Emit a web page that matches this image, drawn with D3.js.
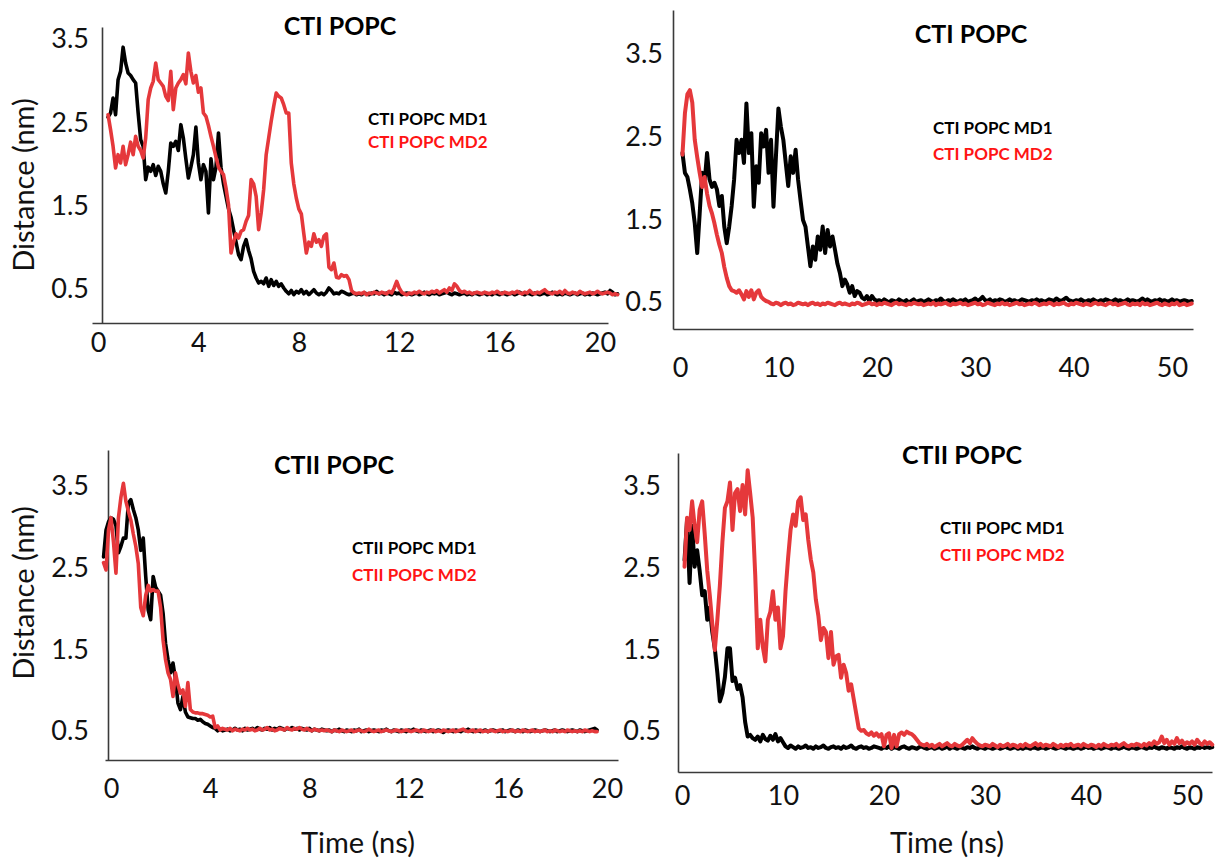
<!DOCTYPE html>
<html>
<head>
<meta charset="utf-8">
<script src="https://cdn.jsdelivr.net/npm/d3@7"></script>
<style>
  html, body { margin: 0; padding: 0; background: #fff; }
  svg { display: block; }
  text { font-family: Lato, "Open Sans", "DejaVu Sans", sans-serif; }
</style>
</head>
<body>
<svg id="chart" width="1220" height="862"></svg>
<script>
// ---------------- DATA ----------------
const yTickValues = [0.5, 1.5, 2.5, 3.5];
const xTicks20 = [0, 4, 8, 12, 16, 20];
const xTicks50 = [0, 10, 20, 30, 40, 50];

// Panel 1: CTI POPC (0-20 ns), time starts 0.4 ns, step 0.1 ns
const p1Start = 0.4, p1Step = 0.1;
const p1MD1 = [
  2.55, 2.6, 2.78, 2.58, 3.0, 3.1, 3.39, 3.2, 3.08, 3.05,
  3.0, 2.96, 2.6, 2.28, 2.2, 1.8, 1.95, 1.9, 1.98, 1.85,
  1.96, 1.9, 1.75, 1.64, 1.9, 2.24, 2.2, 2.26, 2.15, 2.46,
  2.3, 2.05, 1.82, 1.95, 2.1, 2.43, 2.0, 1.8, 1.98, 1.9,
  1.4, 2.05, 1.8, 1.95, 2.36, 1.95, 1.75, 1.6, 1.45, 1.35,
  1.2, 1.05, 0.9, 0.84, 1.0, 1.08, 0.95, 0.85, 0.7, 0.62,
  0.56, 0.58, 0.55, 0.62, 0.52, 0.6, 0.53, 0.58, 0.52, 0.55,
  0.5, 0.46, 0.43, 0.47, 0.42, 0.46, 0.44, 0.48, 0.43, 0.46,
  0.42, 0.45, 0.48, 0.44, 0.42, 0.44, 0.42, 0.45, 0.5, 0.47,
  0.43, 0.44, 0.43, 0.46, 0.45, 0.43, 0.42, 0.43, 0.44, 0.42,
  0.43, 0.42, 0.44, 0.43, 0.42, 0.44, 0.43, 0.46, 0.43, 0.44,
  0.42, 0.44, 0.43, 0.42, 0.45, 0.43, 0.44, 0.42, 0.43, 0.44,
  0.43, 0.42, 0.43, 0.44, 0.42, 0.43, 0.45, 0.43, 0.42, 0.44,
  0.43, 0.44, 0.42, 0.43, 0.44, 0.45, 0.43, 0.42, 0.44, 0.43,
  0.42, 0.43, 0.44, 0.42, 0.43, 0.42, 0.44, 0.43, 0.42, 0.43,
  0.44, 0.42, 0.43, 0.42, 0.44, 0.43, 0.42, 0.44, 0.43, 0.42,
  0.43, 0.44, 0.42, 0.43, 0.45, 0.43, 0.42, 0.44, 0.43, 0.42,
  0.44, 0.43, 0.42, 0.43, 0.44, 0.42, 0.43, 0.45, 0.43, 0.42,
  0.43, 0.42, 0.44, 0.43, 0.42, 0.43, 0.44, 0.42, 0.43, 0.44,
  0.42, 0.43, 0.42, 0.44, 0.43, 0.42, 0.43, 0.44, 0.45, 0.43,
  0.47, 0.45, 0.42, 0.43
];
const p1MD2 = [
  2.58, 2.4, 2.2, 1.94, 2.1, 2.0, 2.2, 1.98, 2.1, 2.25,
  2.1, 2.32, 2.2, 2.15, 2.06, 2.3, 2.76, 2.9, 2.98, 3.2,
  3.0, 2.96, 2.92, 2.8, 2.75, 3.1, 2.64, 2.9, 2.96, 3.0,
  3.06, 2.95, 3.32, 3.1, 2.96, 3.05, 2.85, 2.9, 2.6, 2.56,
  2.45, 2.32, 2.2, 2.07, 1.95, 1.9, 1.86, 1.7, 1.5, 0.92,
  1.05, 1.15, 1.1, 1.18, 1.2, 1.3, 1.37, 1.8, 1.75, 1.6,
  1.2, 1.4, 1.68, 2.1, 2.3, 2.5, 2.68, 2.84, 2.8, 2.78,
  2.7, 2.6, 2.6, 2.0, 1.75, 1.58, 1.45, 1.39, 1.15, 0.92,
  1.05, 1.0, 1.15, 1.05, 1.08, 1.0, 1.12, 1.15, 0.75, 0.72,
  0.8, 0.63, 0.62, 0.66, 0.64, 0.65, 0.6, 0.47, 0.44, 0.43,
  0.44, 0.43, 0.45, 0.42, 0.44, 0.43, 0.45, 0.44, 0.43, 0.45,
  0.44, 0.43, 0.46, 0.44, 0.5, 0.58, 0.5, 0.45, 0.43, 0.42,
  0.44, 0.43, 0.45, 0.44, 0.46, 0.44, 0.43, 0.45, 0.44, 0.46,
  0.45, 0.47, 0.44, 0.46, 0.48, 0.45, 0.5, 0.47, 0.55, 0.52,
  0.47, 0.45, 0.46, 0.44, 0.45, 0.43, 0.44, 0.45, 0.44, 0.43,
  0.45, 0.44, 0.43, 0.45, 0.44, 0.46, 0.44, 0.43, 0.45, 0.44,
  0.43, 0.45, 0.44, 0.46, 0.44, 0.43, 0.45, 0.44, 0.47, 0.44,
  0.43, 0.45, 0.44, 0.46, 0.48, 0.45, 0.44, 0.43, 0.45, 0.44,
  0.46, 0.43, 0.47, 0.44, 0.43, 0.45, 0.44, 0.43, 0.46, 0.44,
  0.43, 0.44, 0.45, 0.43, 0.44, 0.46, 0.44, 0.43, 0.44, 0.45,
  0.44, 0.42, 0.43, 0.42
];

// Panel 2: CTI POPC (0-50 ns), time starts 0.25 ns, step 0.25 ns
const p2Start = 0.25, p2Step = 0.25;
const p2MD1 = [
  2.29, 2.05, 2.0, 1.85, 1.68, 1.44, 1.08, 1.56, 2.05, 1.93,
  2.29, 1.97, 1.88, 1.93, 1.85, 1.65, 1.77, 1.4, 1.2, 1.4,
  1.65, 1.97, 2.45, 2.29, 2.45, 2.17, 2.89, 2.29, 2.53, 1.64,
  2.13, 1.93, 2.53, 2.37, 2.57, 2.05, 2.45, 1.64, 2.25, 2.83,
  2.61, 2.45, 2.17, 1.89, 2.25, 2.05, 2.33, 1.97, 1.72, 1.48,
  1.4, 1.16, 0.92, 1.16, 1.0, 1.28, 1.12, 1.4, 1.08, 1.36,
  1.16, 1.28, 1.12, 0.95, 0.84, 0.68, 0.76, 0.7, 0.6, 0.68,
  0.56, 0.62, 0.6, 0.54, 0.52, 0.56, 0.5, 0.56, 0.52, 0.5,
  0.51, 0.49, 0.52, 0.5, 0.48, 0.51, 0.5, 0.49, 0.52, 0.5, 0.49, 0.51, 0.48, 0.5, 0.52, 0.49,
  0.5, 0.51, 0.49, 0.5, 0.52, 0.5, 0.49, 0.51, 0.5, 0.53, 0.5, 0.49, 0.51, 0.5, 0.52, 0.5,
  0.49, 0.51, 0.5, 0.52, 0.49, 0.5, 0.51, 0.53, 0.5, 0.52, 0.55, 0.51, 0.5, 0.52, 0.49, 0.51,
  0.5, 0.52, 0.51, 0.49, 0.5, 0.52, 0.5, 0.51, 0.49, 0.5, 0.52, 0.51, 0.5, 0.49, 0.51, 0.5,
  0.52, 0.5, 0.51, 0.49, 0.5, 0.52, 0.51, 0.5, 0.53, 0.51, 0.5, 0.52, 0.54, 0.51, 0.5, 0.49,
  0.51, 0.5, 0.52, 0.5, 0.49, 0.51, 0.5, 0.52, 0.5, 0.49, 0.51, 0.5, 0.52, 0.51, 0.49, 0.5,
  0.52, 0.5, 0.51, 0.49, 0.5, 0.52, 0.5, 0.51, 0.5, 0.49, 0.51, 0.53, 0.5, 0.52, 0.5, 0.49,
  0.51, 0.5, 0.52, 0.5, 0.51, 0.49, 0.5, 0.52, 0.5, 0.51, 0.49, 0.5, 0.51, 0.5, 0.49, 0.5
];
const p2MD2 = [
  2.27, 2.77, 3.0, 3.05, 2.9, 2.45, 2.24, 2.05, 1.88, 2.0,
  1.8, 1.65, 1.56, 1.44, 1.3, 1.18, 1.08, 0.91, 0.78, 0.68,
  0.63, 0.62, 0.6, 0.63, 0.58, 0.52, 0.62, 0.55, 0.63, 0.52,
  0.6, 0.63, 0.55, 0.52, 0.5, 0.49,
  0.47, 0.46, 0.48, 0.47, 0.45, 0.47, 0.48, 0.46, 0.47, 0.45, 0.46, 0.48, 0.47, 0.46, 0.47, 0.45,
  0.47, 0.48, 0.46, 0.47, 0.45, 0.47, 0.46, 0.48, 0.47, 0.46, 0.45, 0.47, 0.48, 0.46, 0.47, 0.46,
  0.45, 0.47, 0.46, 0.48, 0.47, 0.45, 0.46, 0.47, 0.48, 0.46, 0.47, 0.45, 0.47, 0.46, 0.48, 0.47,
  0.46, 0.45, 0.47, 0.48, 0.46, 0.47, 0.46, 0.45, 0.47, 0.46, 0.48, 0.47, 0.46, 0.47, 0.45, 0.46,
  0.47, 0.46, 0.48, 0.45, 0.47, 0.46, 0.47, 0.48, 0.46, 0.45, 0.47, 0.46, 0.47, 0.48, 0.46, 0.47,
  0.45, 0.46, 0.47, 0.48, 0.46, 0.47, 0.45, 0.46, 0.48, 0.47, 0.46, 0.45, 0.47, 0.46, 0.48, 0.46,
  0.47, 0.45, 0.46, 0.47, 0.48, 0.46, 0.47, 0.45, 0.46, 0.47, 0.46, 0.48, 0.47, 0.45, 0.46, 0.47,
  0.46, 0.48, 0.47, 0.45, 0.47, 0.46, 0.47, 0.48, 0.46, 0.45, 0.47, 0.46, 0.48, 0.47, 0.46, 0.45,
  0.47, 0.46, 0.45, 0.47, 0.48, 0.46, 0.47, 0.46, 0.45, 0.47, 0.48, 0.46, 0.47, 0.45, 0.46, 0.47,
  0.48, 0.46, 0.45, 0.47, 0.46, 0.47, 0.45, 0.48, 0.46, 0.47, 0.45, 0.46, 0.47, 0.48, 0.46, 0.45,
  0.47, 0.46, 0.45, 0.47, 0.46, 0.48, 0.45, 0.46, 0.47, 0.45, 0.46, 0.47
];

// Panel 3: CTII POPC (0-20 ns), time starts -0.3 ns, step 0.1 ns
const p3Start = -0.3, p3Step = 0.1;
const p3MD1 = [
  2.62, 2.95, 3.05, 3.1, 3.08, 3.0, 2.67, 2.75, 2.85, 2.85,
  3.28, 3.32, 3.2, 3.1, 2.95, 2.7, 2.85, 2.38, 1.97, 1.85,
  2.38, 2.25, 2.2, 2.15, 1.93, 1.56, 1.36, 1.2, 1.32, 1.12,
  0.83, 0.75, 0.91, 0.72, 0.66, 0.65, 0.64, 0.64, 0.62, 0.63,
  0.6, 0.58, 0.57, 0.55, 0.53, 0.52, 0.49, 0.51, 0.49, 0.5,
  0.51, 0.49, 0.5, 0.52, 0.5, 0.51, 0.49, 0.52, 0.5, 0.51,
  0.52, 0.5, 0.53, 0.51, 0.5, 0.52, 0.51, 0.53, 0.5, 0.52,
  0.51, 0.53, 0.52, 0.5, 0.52, 0.51, 0.53, 0.51, 0.52, 0.5,
  0.52, 0.51, 0.5, 0.52, 0.49, 0.51, 0.5, 0.49, 0.51, 0.5,
  0.49, 0.5, 0.48, 0.5, 0.49, 0.51, 0.49, 0.48, 0.5, 0.49,
  0.48, 0.5, 0.49, 0.51, 0.48, 0.49, 0.5, 0.48, 0.49, 0.5,
  0.49, 0.48, 0.5, 0.49, 0.51, 0.49, 0.48, 0.5, 0.49, 0.48,
  0.5, 0.49, 0.48, 0.5, 0.49, 0.51, 0.49, 0.48, 0.5, 0.49,
  0.48, 0.49, 0.5, 0.48, 0.49, 0.5, 0.49, 0.47, 0.49, 0.5,
  0.49, 0.48, 0.5, 0.49, 0.48, 0.5, 0.49, 0.51, 0.49, 0.48,
  0.5, 0.49, 0.48, 0.49, 0.5, 0.48, 0.49, 0.5, 0.49, 0.48,
  0.49, 0.5, 0.48, 0.49, 0.5, 0.49, 0.48, 0.5, 0.49, 0.48,
  0.5, 0.49, 0.48, 0.49, 0.5, 0.49, 0.48, 0.49, 0.5, 0.49,
  0.48, 0.49, 0.5, 0.48, 0.49, 0.5, 0.49, 0.48, 0.49, 0.5,
  0.49, 0.48, 0.5, 0.49, 0.48, 0.49, 0.5, 0.51, 0.52, 0.5
];
const p3MD2 = [
  2.55, 2.46, 2.95, 3.1, 2.8, 2.42, 3.1, 3.35, 3.52, 3.3,
  3.18, 3.07, 2.9, 2.75, 2.54, 2.0, 1.9, 2.15, 2.27, 2.2,
  2.22, 2.2, 2.2, 2.0, 1.6, 1.36, 1.2, 1.12, 0.91, 1.2,
  1.05, 0.95, 0.99, 0.79, 1.08, 0.75, 0.72, 0.71, 0.71, 0.7,
  0.7, 0.69, 0.68, 0.66, 0.67, 0.53, 0.55, 0.5, 0.52, 0.51,
  0.5, 0.52, 0.49, 0.51, 0.5, 0.49, 0.51, 0.5, 0.52, 0.5,
  0.51, 0.49, 0.5, 0.52, 0.5, 0.51, 0.53, 0.5, 0.51, 0.49,
  0.5, 0.52, 0.51, 0.5, 0.53, 0.51, 0.5, 0.52, 0.51, 0.53,
  0.51, 0.5, 0.52, 0.5, 0.49, 0.51, 0.5, 0.49, 0.5, 0.49,
  0.5, 0.49, 0.48, 0.5, 0.49, 0.48, 0.5, 0.49, 0.48, 0.49,
  0.5, 0.48, 0.49, 0.5, 0.49, 0.48, 0.49, 0.51, 0.49, 0.48,
  0.49, 0.5, 0.48, 0.49, 0.5, 0.49, 0.48, 0.49, 0.5, 0.49,
  0.48, 0.49, 0.5, 0.49, 0.48, 0.49, 0.5, 0.49, 0.48, 0.5,
  0.49, 0.48, 0.49, 0.5, 0.48, 0.49, 0.48, 0.5, 0.49, 0.48,
  0.49, 0.5, 0.48, 0.49, 0.5, 0.51, 0.49, 0.48, 0.49, 0.5,
  0.48, 0.49, 0.5, 0.48, 0.49, 0.48, 0.5, 0.49, 0.48, 0.49,
  0.5, 0.48, 0.49, 0.48, 0.49, 0.5, 0.48, 0.49, 0.48, 0.5,
  0.49, 0.48, 0.49, 0.5, 0.48, 0.49, 0.48, 0.49, 0.5, 0.48,
  0.49, 0.48, 0.5, 0.49, 0.48, 0.49, 0.48, 0.5, 0.49, 0.48,
  0.49, 0.48, 0.49, 0.48, 0.5, 0.49, 0.48, 0.49, 0.48, 0.48
];

// Panel 4: CTII POPC (0-50 ns), time starts 0.25 ns, step 0.25 ns
const p4Start = 0.25, p4Step = 0.25;
const p4MD1 = [
  2.58, 3.07, 2.3, 3.0, 2.5, 2.7, 2.45, 2.15, 2.2, 1.85,
  2.0, 1.7, 1.5, 1.2, 0.85, 0.95, 1.15, 1.5, 1.5, 1.1,
  1.14, 1.0, 1.05, 0.9, 0.6, 0.42, 0.44, 0.4, 0.38, 0.42,
  0.36, 0.44, 0.39, 0.37, 0.43, 0.38, 0.45, 0.36, 0.4, 0.35,
  0.3, 0.28, 0.31, 0.29, 0.27, 0.3, 0.28, 0.29, 0.31, 0.28,
  0.29, 0.27, 0.3, 0.28, 0.29, 0.31, 0.28, 0.27, 0.29, 0.3,
  0.28, 0.29, 0.27, 0.3, 0.28, 0.29, 0.31, 0.28, 0.27, 0.29,
  0.3, 0.28, 0.29, 0.27, 0.28, 0.3, 0.29, 0.28, 0.27, 0.29,
  0.28, 0.3, 0.27, 0.29, 0.28, 0.27, 0.29, 0.3, 0.28, 0.27,
  0.29, 0.28, 0.27, 0.29, 0.3, 0.28, 0.27, 0.28, 0.29, 0.27,
  0.28, 0.29, 0.27, 0.28, 0.3, 0.27, 0.29, 0.28, 0.27, 0.29,
  0.28, 0.27, 0.29, 0.28, 0.3, 0.28, 0.27, 0.29, 0.28, 0.27,
  0.29, 0.28, 0.27, 0.28, 0.29, 0.27, 0.28, 0.3, 0.28, 0.27,
  0.28, 0.29, 0.27, 0.28, 0.27, 0.29, 0.28, 0.27, 0.29, 0.28,
  0.27, 0.28, 0.29, 0.27, 0.28, 0.3, 0.28, 0.27, 0.28, 0.29,
  0.28, 0.27, 0.29, 0.28, 0.27, 0.28, 0.29, 0.27, 0.28, 0.3,
  0.28, 0.29, 0.27, 0.28, 0.29, 0.27, 0.28, 0.29, 0.28, 0.27,
  0.29, 0.28, 0.27, 0.28, 0.3, 0.28, 0.27, 0.29, 0.28, 0.27,
  0.28, 0.29, 0.28, 0.27, 0.29, 0.28, 0.3, 0.28, 0.27, 0.29,
  0.28, 0.27, 0.29, 0.28, 0.27, 0.29, 0.28, 0.3, 0.28, 0.27,
  0.29, 0.28, 0.27, 0.29, 0.28, 0.3, 0.28, 0.29, 0.28, 0.29
];
const p4MD2 = [
  2.5, 3.1, 2.95, 3.3, 3.0, 2.8, 3.2, 3.3, 2.9, 2.45,
  2.15, 1.8, 1.48, 1.85, 2.27, 2.8, 3.22, 3.3, 3.53, 2.95,
  3.4, 3.45, 3.18, 3.5, 3.14, 3.68, 3.4, 3.1, 2.4, 1.5,
  1.85, 1.52, 1.34, 1.85, 1.95, 2.2, 1.85, 2.0, 1.5, 1.65,
  2.2, 2.6, 2.95, 3.14, 3.0, 3.3, 3.35, 3.07, 3.14, 2.83,
  2.59, 2.43, 2.1, 1.9, 1.6, 1.75, 1.7, 1.38, 1.7, 1.3,
  1.4, 1.42, 1.14, 1.3, 1.2, 0.98, 1.06, 0.88, 0.7, 0.52,
  0.49, 0.5, 0.46, 0.44, 0.47, 0.43, 0.46, 0.42, 0.45, 0.3,
  0.44, 0.46, 0.28, 0.44, 0.3, 0.45, 0.47, 0.44, 0.48, 0.46,
  0.45, 0.42, 0.38, 0.34, 0.32, 0.31, 0.33, 0.3, 0.32, 0.29,
  0.31, 0.33, 0.3, 0.32, 0.34, 0.31, 0.3, 0.33, 0.31, 0.3,
  0.32, 0.35, 0.38, 0.34, 0.4, 0.36, 0.33, 0.31, 0.3, 0.32,
  0.31, 0.3, 0.33, 0.31, 0.29, 0.32, 0.3, 0.31, 0.33, 0.3,
  0.32, 0.31, 0.29, 0.32, 0.3, 0.33, 0.31, 0.3, 0.32, 0.34,
  0.31, 0.33, 0.3, 0.32, 0.31, 0.3, 0.33, 0.31, 0.29, 0.32,
  0.3, 0.32, 0.31, 0.33, 0.3, 0.31, 0.32, 0.3, 0.33, 0.31,
  0.3, 0.32, 0.31, 0.29, 0.32, 0.3, 0.33, 0.31, 0.3, 0.32,
  0.31, 0.33, 0.3, 0.32, 0.34, 0.31, 0.3, 0.32, 0.31, 0.33,
  0.32, 0.3, 0.33, 0.31, 0.34, 0.32, 0.36, 0.33, 0.35, 0.42,
  0.34, 0.38, 0.32, 0.36, 0.33, 0.4, 0.34, 0.37, 0.32, 0.35,
  0.33, 0.36, 0.32, 0.38, 0.34, 0.32, 0.36, 0.33, 0.35, 0.32
];

const titles = ["CTI POPC", "CTI POPC", "CTII POPC", "CTII POPC"];
const legends = [
  ["CTI POPC MD1", "CTI POPC MD2"],
  ["CTI POPC MD1", "CTI POPC MD2"],
  ["CTII POPC MD1", "CTII POPC MD2"],
  ["CTII POPC MD1", "CTII POPC MD2"]
];
const yAxisTitle = "Distance (nm)";
const xAxisTitle = "Time (ns)";

// ---------------- LAYOUT ----------------
const COLOR_MD1 = "#000000";
const COLOR_MD2 = "#e5383b";
const COLOR_LEG2 = "#ff1414";
const FONT = "Lato, 'Open Sans', sans-serif";

const panels = [
  { start: p1Start, step: p1Step, md1: p1MD1, md2: p1MD2, ticks: xTicks20, sw: 3.6,
    yAxisX: 102, xAxisY: 323, yTop: 27, xLeft: 92, xRight: 608,
    x0: 98, x1: 600, t1: 20, y05: 288, y35: 38, yPad: 13, xLabY: 342,
    title: [340, 26], leg: [368, 119, 142], yTitle: [24, 185], xTitle: null },
  { start: p2Start, step: p2Step, md1: p2MD1, md2: p2MD2, ticks: xTicks50, sw: 4,
    yAxisX: 673, xAxisY: 329, yTop: 10, xLeft: 673, xRight: 1193,
    x0: 680, x1: 1172, t1: 50, y05: 301, y35: 53, yPad: 10, xLabY: 367,
    title: [971, 34], leg: [933, 128, 154], yTitle: null, xTitle: null },
  { start: p3Start, step: p3Step, md1: p3MD1, md2: p3MD2, ticks: xTicks20, sw: 3.6,
    yAxisX: 108, xAxisY: 760, yTop: 450, xLeft: 105, xRight: 618,
    x0: 111, x1: 607, t1: 20, y05: 730, y35: 485, yPad: 19, xLabY: 788,
    title: [334, 465], leg: [352, 548, 575], yTitle: [24, 593], xTitle: [358, 843] },
  { start: p4Start, step: p4Step, md1: p4MD1, md2: p4MD2, ticks: xTicks50, sw: 4,
    yAxisX: 678, xAxisY: 772, yTop: 453, xLeft: 678, xRight: 1212,
    x0: 682, x1: 1187, t1: 50, y05: 730, y35: 485, yPad: 17, xLabY: 795,
    title: [962, 455], leg: [940, 528, 555], yTitle: null, xTitle: [947, 843] }
];

const svg = d3.select("#chart");

panels.forEach((p, i) => {
  const g = svg.append("g");

  // scales calibrated on tick positions, then extended to the drawn axis lines
  const x = d3.scaleLinear().domain([0, p.t1]).range([p.x0, p.x1]);
  x.domain([x.invert(p.xLeft), x.invert(p.xRight)]).range([p.xLeft, p.xRight]);
  const y = d3.scaleLinear().domain([0.5, 3.5]).range([p.y05, p.y35]);
  y.domain([y.invert(p.xAxisY), y.invert(p.yTop)]).range([p.xAxisY, p.yTop]);

  // x axis
  const xa = g.append("g")
    .attr("transform", `translate(0,${p.xAxisY})`)
    .call(d3.axisBottom(x).tickValues(p.ticks).tickSize(0).tickSizeOuter(0).tickFormat(d3.format("d")));
  xa.select(".domain").attr("stroke", "#3a3a3a").attr("stroke-width", 1.6);
  xa.selectAll("text")
    .attr("y", p.xLabY - p.xAxisY).attr("dy", "0.36em")
    .attr("font-size", 27).attr("fill", "#111")
    .style("font-family", FONT);

  // y axis
  const ya = g.append("g")
    .attr("transform", `translate(${p.yAxisX},0)`)
    .call(d3.axisLeft(y).tickValues(yTickValues).tickSize(0).tickSizeOuter(0).tickPadding(p.yPad).tickFormat(d3.format(".1f")));
  ya.select(".domain").attr("stroke", "#3a3a3a").attr("stroke-width", 1.6);
  ya.selectAll("text")
    .attr("dy", "0.36em")
    .attr("font-size", 27).attr("fill", "#111")
    .style("font-family", FONT);

  // lines
  const line = d3.line()
    .x((d, k) => x(p.start + k * p.step))
    .y(d => y(d));
  g.append("path").datum(p.md1)
    .attr("d", line).attr("fill", "none")
    .attr("stroke", COLOR_MD1).attr("stroke-width", p.sw)
    .attr("stroke-linejoin", "round").attr("stroke-linecap", "round");
  g.append("path").datum(p.md2)
    .attr("d", line).attr("fill", "none")
    .attr("stroke", COLOR_MD2).attr("stroke-width", p.sw)
    .attr("stroke-linejoin", "round").attr("stroke-linecap", "round");

  // title
  g.append("text")
    .attr("x", p.title[0]).attr("y", p.title[1]).attr("dy", "0.36em")
    .attr("text-anchor", "middle")
    .attr("font-size", 25).attr("font-weight", "bold").attr("fill", "#000")
    .text(titles[i]);

  // legend
  g.append("text")
    .attr("x", p.leg[0]).attr("y", p.leg[1]).attr("dy", "0.36em")
    .attr("font-size", 17).attr("font-weight", "bold").attr("fill", "#000")
    .text(legends[i][0]);
  g.append("text")
    .attr("x", p.leg[0]).attr("y", p.leg[2]).attr("dy", "0.36em")
    .attr("font-size", 17).attr("font-weight", "bold").attr("fill", COLOR_LEG2)
    .text(legends[i][1]);

  if (p.yTitle) {
    g.append("text")
      .attr("transform", `translate(${p.yTitle[0]},${p.yTitle[1]}) rotate(-90)`)
      .attr("text-anchor", "middle").attr("dy", "0.36em")
      .attr("font-size", 29).attr("fill", "#111")
      .text(yAxisTitle);
  }
  if (p.xTitle) {
    g.append("text")
      .attr("x", p.xTitle[0]).attr("y", p.xTitle[1]).attr("dy", "0.36em")
      .attr("text-anchor", "middle")
      .attr("font-size", 29).attr("fill", "#111")
      .text(xAxisTitle);
  }
});
</script>
</body>
</html>
